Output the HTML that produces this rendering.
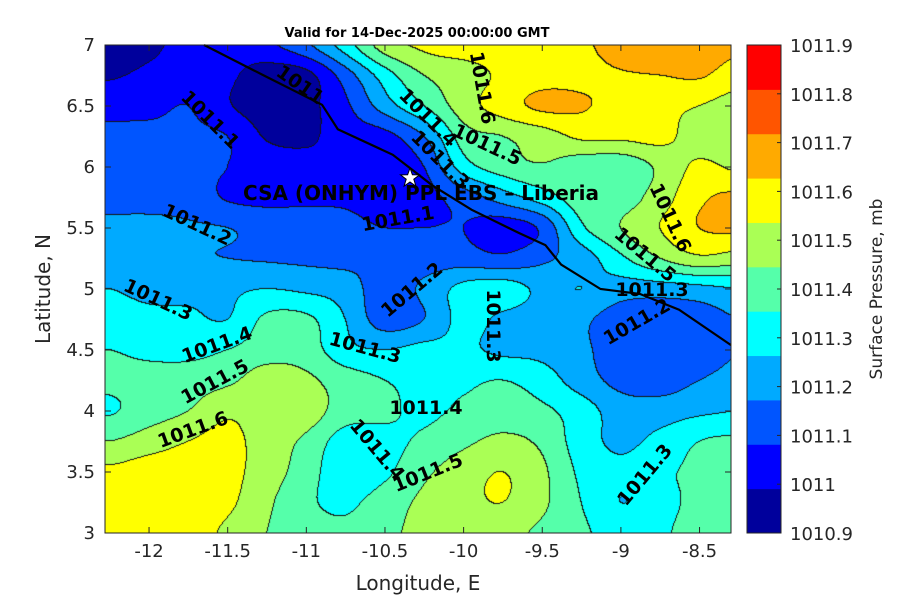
<!DOCTYPE html>
<html><head><meta charset="utf-8"><style>
html,body{margin:0;padding:0;background:#fff;}
#wrap{position:relative;width:900px;height:600px;overflow:hidden;font-family:"DejaVu Sans","Liberation Sans",sans-serif;}
canvas{position:absolute;left:105px;top:45px;}
svg{position:absolute;left:0;top:0;}
</style></head><body>
<div id="wrap">
<canvas id="cv" width="626" height="488"></canvas>
<svg id="sv" width="900" height="600"></svg>
</div>
<script>
const lons=[-12.25,-12,-11.75,-11.5,-11.25,-11,-10.75,-10.5,-10.25,-10,-9.75,-9.5,-9.25,-9,-8.75,-8.5,-8.25];
const lats=[7,6.75,6.5,6.25,6,5.75,5.5,5.25,5,4.75,4.5,4.25,4,3.75,3.5,3.25,3];
const pressure=[
[1010.95,1010.98,1011.03,1011.05,1011.08,1011.18,1011.35,1011.55,1011.62,1011.65,1011.65,1011.66,1011.68,1011.75,1011.78,1011.75,1011.72],
[1010.99,1011.02,1011.05,1011.02,1010.95,1010.97,1011.15,1011.35,1011.5,1011.55,1011.62,1011.66,1011.67,1011.69,1011.70,1011.71,1011.65],
[1011.06,1011.07,1011.1,1011.01,1010.95,1010.97,1011.08,1011.25,1011.4,1011.55,1011.65,1011.72,1011.71,1011.66,1011.63,1011.6,1011.55],
[1011.13,1011.13,1011.12,1011.1,1010.99,1010.98,1011.05,1011.07,1011.2,1011.45,1011.5,1011.55,1011.62,1011.62,1011.63,1011.55,1011.52],
[1011.15,1011.15,1011.13,1011.1,1011.06,1011.04,1011.03,1011.05,1011.1,1011.35,1011.45,1011.49,1011.44,1011.43,1011.52,1011.62,1011.58],
[1011.17,1011.17,1011.16,1011.09,1011.07,1011.08,1011.08,1011.06,1011.07,1011.15,1011.25,1011.35,1011.45,1011.45,1011.55,1011.68,1011.72],
[1011.22,1011.22,1011.21,1011.2,1011.17,1011.15,1011.13,1011.1,1011.1,1011.1,1011.05,1011.12,1011.38,1011.5,1011.6,1011.7,1011.72],
[1011.23,1011.22,1011.21,1011.2,1011.19,1011.18,1011.17,1011.18,1011.15,1011.15,1011.12,1011.18,1011.25,1011.38,1011.5,1011.58,1011.55],
[1011.3,1011.27,1011.27,1011.28,1011.3,1011.28,1011.25,1011.15,1011.22,1011.33,1011.35,1011.28,1011.3,1011.25,1011.25,1011.27,1011.3],
[1011.35,1011.33,1011.32,1011.3,1011.42,1011.42,1011.3,1011.15,1011.2,1011.33,1011.28,1011.25,1011.22,1011.15,1011.13,1011.15,1011.2],
[1011.4,1011.38,1011.37,1011.4,1011.45,1011.45,1011.33,1011.3,1011.33,1011.32,1011.28,1011.27,1011.22,1011.15,1011.12,1011.12,1011.2],
[1011.42,1011.43,1011.45,1011.48,1011.55,1011.52,1011.45,1011.4,1011.37,1011.38,1011.4,1011.35,1011.25,1011.17,1011.15,1011.2,1011.25],
[1011.39,1011.45,1011.5,1011.58,1011.55,1011.55,1011.45,1011.42,1011.38,1011.42,1011.45,1011.42,1011.35,1011.25,1011.25,1011.28,1011.3],
[1011.5,1011.55,1011.6,1011.63,1011.55,1011.48,1011.35,1011.37,1011.42,1011.48,1011.52,1011.48,1011.35,1011.28,1011.33,1011.4,1011.42],
[1011.62,1011.65,1011.65,1011.63,1011.55,1011.45,1011.33,1011.38,1011.48,1011.55,1011.6,1011.52,1011.38,1011.32,1011.38,1011.42,1011.45],
[1011.65,1011.66,1011.65,1011.62,1011.52,1011.42,1011.38,1011.45,1011.52,1011.57,1011.6,1011.52,1011.4,1011.3,1011.36,1011.43,1011.45],
[1011.66,1011.66,1011.65,1011.58,1011.5,1011.45,1011.42,1011.48,1011.52,1011.53,1011.53,1011.48,1011.42,1011.35,1011.38,1011.45,1011.45]];
const levelColors=['#00009c','#0000ff','#0055ff','#00aaff','#00ffff','#55ffaa','#aaff55','#ffff00','#ffaa00','#ff5500','#ff0000'];
const xTicks=[-12,-11.5,-11,-10.5,-10,-9.5,-9,-8.5];
const yTicks=[3,3.5,4,4.5,5,5.5,6,6.5,7];
const cbTicks=['1010.9','1011','1011.1','1011.2','1011.3','1011.4','1011.5','1011.6','1011.7','1011.8','1011.9'];
const contourLabels=[
['1011',300,85,35],['1011.1',210,120,45],['1011.2',197,225,25],['1011.3',158,300,25],
['1011.4',217,345,-20],['1011.5',215,382,-28],['1011.6',193,430,-20],['1011.3',365,348,15],
['1011.2',412,290,-40],['1011.1',398,219,-10],['1011.4',426,408,0],['1011.4',377,450,50],
['1011.5',428,473,-22],['1011.3',493,326,90],['1011.6',482,88,80],['1011.5',487,145,25],
['1011.4',428,118,45],['1011.3',440,160,45],['1011.6',670,218,65],['1011.5',645,255,40],
['1011.3',652,290,0],['1011.2',637,322,-30],['1011.3',645,475,-50]];
const coastLon=[-11.65,-11.27,-10.9,-10.8,-10.45,-10.33,-10.2,-9.95,-9.65,-9.48,-9.38,-9.13,-8.88,-8.63,-8.3];
const coastLat=[7.0,6.75,6.51,6.31,6.1,5.98,5.85,5.65,5.46,5.36,5.2,5.0,4.96,4.83,4.54];

const X0=105,X1=731,Y0=45,Y1=533,LON0=-12.28,LON1=-8.3,LAT0=3,LAT1=7;
const xs=l=>X0+(l-LON0)/(LON1-LON0)*(X1-X0);
const ys=l=>Y1-(l-LAT0)/(LAT1-LAT0)*(Y1-Y0);
function cr(p0,p1,p2,p3,t){return p1+0.5*t*(p2-p0+t*(2*p0-5*p1+4*p2-p3+t*(3*(p1-p2)+p3-p0)));}
function g(j,i){j=Math.max(0,Math.min(lats.length-1,j));i=Math.max(0,Math.min(lons.length-1,i));return pressure[j][i];}
function val(lon,lat){
  let fi=(lon-lons[0])/0.25, fj=(lats[0]-lat)/0.25;
  fi=Math.max(0,Math.min(lons.length-1.0001,fi)); fj=Math.max(0,Math.min(lats.length-1.0001,fj));
  const i=Math.floor(fi),j=Math.floor(fj),a=fi-i,b=fj-j;
  const r=[];
  for(let k=-1;k<=2;k++)r.push(cr(g(j+k,i-1),g(j+k,i),g(j+k,i+1),g(j+k,i+2),a));
  return cr(r[0],r[1],r[2],r[3],b);
}
function band(v){return Math.max(0,Math.min(10,Math.floor((v-1010.9)/0.1+1e-9)));}
const cv=document.getElementById('cv'),ctx=cv.getContext('2d');
const W=cv.width,H=cv.height,img=ctx.createImageData(W,H),B=new Int8Array(W*H);
for(let y=0;y<H;y++)for(let x=0;x<W;x++){
  const lon=LON0+(x+0.5)/W*(LON1-LON0), lat=LAT1-(y+0.5)/H*(LAT1-LAT0);
  B[y*W+x]=band(val(lon,lat));
}
const rgb=levelColors.map(c=>[parseInt(c.substr(1,2),16),parseInt(c.substr(3,2),16),parseInt(c.substr(5,2),16)]);
for(let y=0;y<H;y++)for(let x=0;x<W;x++){
  const k=y*W+x,b=B[k];let c=rgb[b];
  if((x<W-1&&B[k+1]!==b)||(y<H-1&&B[k+W]!==b))c=[20,20,20];
  img.data[k*4]=c[0];img.data[k*4+1]=c[1];img.data[k*4+2]=c[2];img.data[k*4+3]=255;
}
ctx.putImageData(img,0,0);

const NS='http://www.w3.org/2000/svg',sv=document.getElementById('sv');
function mk(t,at,parent){const e=document.createElementNS(NS,t);for(const k in at)e.setAttribute(k,at[k]);(parent||sv).appendChild(e);return e;}
let d='';coastLon.forEach((l,i)=>{d+=(i?'L':'M')+xs(l).toFixed(1)+','+ys(coastLat[i]).toFixed(1);});
const coast=mk('path',{d:d,fill:'none',stroke:'#000','stroke-width':2.2});


contourLabels.forEach(c=>{
  const t=mk('text',{x:c[1],y:c[2],'font-size':19,'font-weight':'bold','text-anchor':'middle','dominant-baseline':'central',fill:'#000',transform:`rotate(${c[3]} ${c[1]} ${c[2]})`,'font-family':'DejaVu Sans, sans-serif'});
  t.textContent=c[0];
  
  
});
const site=mk('text',{x:421,y:193,'font-size':20,'font-weight':'bold','text-anchor':'middle','dominant-baseline':'central',fill:'#000','font-family':'DejaVu Sans, sans-serif'});
site.textContent='CSA (ONHYM) PPL EBS  \u2013 Liberia';


const star=mk('polygon',{points:(function(){let p=[];for(let i=0;i<10;i++){const r=i%2?4:10,a=-Math.PI/2+i*Math.PI/5;p.push((410+r*Math.cos(a)).toFixed(1)+','+(178+r*Math.sin(a)).toFixed(1));}return p.join(' ');})(),fill:'#fff',stroke:'#000','stroke-width':1});


const box=mk('rect',{x:X0,y:Y0,width:X1-X0,height:Y1-Y0,fill:'none',stroke:'#262626','stroke-width':1});


xTicks.forEach(v=>{
  const x=xs(v);
  mk('line',{x1:x,x2:x,y1:Y1,y2:Y1-6,stroke:'#262626'});mk('line',{x1:x,x2:x,y1:Y0,y2:Y0+6,stroke:'#262626'});
  const t=mk('text',{x:x,y:Y1+24,'font-size':18,'text-anchor':'middle',fill:'#262626'});t.textContent=String(v);
  
  
});
yTicks.forEach(v=>{
  const y=ys(v);
  mk('line',{x1:X0,x2:X0+6,y1:y,y2:y,stroke:'#262626'});mk('line',{x1:X1,x2:X1-6,y1:y,y2:y,stroke:'#262626'});
  const t=mk('text',{x:X0-10,y:y+6,'font-size':18,'text-anchor':'end',fill:'#262626'});t.textContent=String(v);
  
  
});
const xl=mk('text',{x:418,y:590,'font-size':20,'text-anchor':'middle',fill:'#262626'});xl.textContent='Longitude, E';


const yl=mk('text',{x:50,y:289,'font-size':20,'text-anchor':'middle',fill:'#262626',transform:'rotate(-90 50 289)'});yl.textContent='Latitude, N';


const tt=mk('text',{x:417,y:37,'font-size':13,'font-weight':'bold','text-anchor':'middle',fill:'#000'});tt.textContent='Valid for 14-Dec-2025 00:00:00 GMT';


const CX=747,CW=34,bh=(Y1-Y0)/levelColors.length;
levelColors.forEach((c,i)=>{
  const r=mk('rect',{x:CX,y:Y1-(i+1)*bh,width:CW,height:bh+0.5,fill:c});
  
  
});
mk('rect',{x:CX,y:Y0,width:CW,height:Y1-Y0,fill:'none',stroke:'#262626'});
const tickStep=(Y1-Y0)/(cbTicks.length-1);
cbTicks.forEach((s,i)=>{
  const y=Y1-i*tickStep;
  mk('line',{x1:CX+CW-4,x2:CX+CW,y1:y,y2:y,stroke:'#262626'});
  const t=mk('text',{x:790,y:y+7,'font-size':18,fill:'#262626'});t.textContent=s;
  
  
});
const cl=mk('text',{x:882,y:289,'font-size':17,'text-anchor':'middle',fill:'#262626',transform:'rotate(-90 882 289)'});cl.textContent='Surface Pressure, mb';


</script>
</body></html>
